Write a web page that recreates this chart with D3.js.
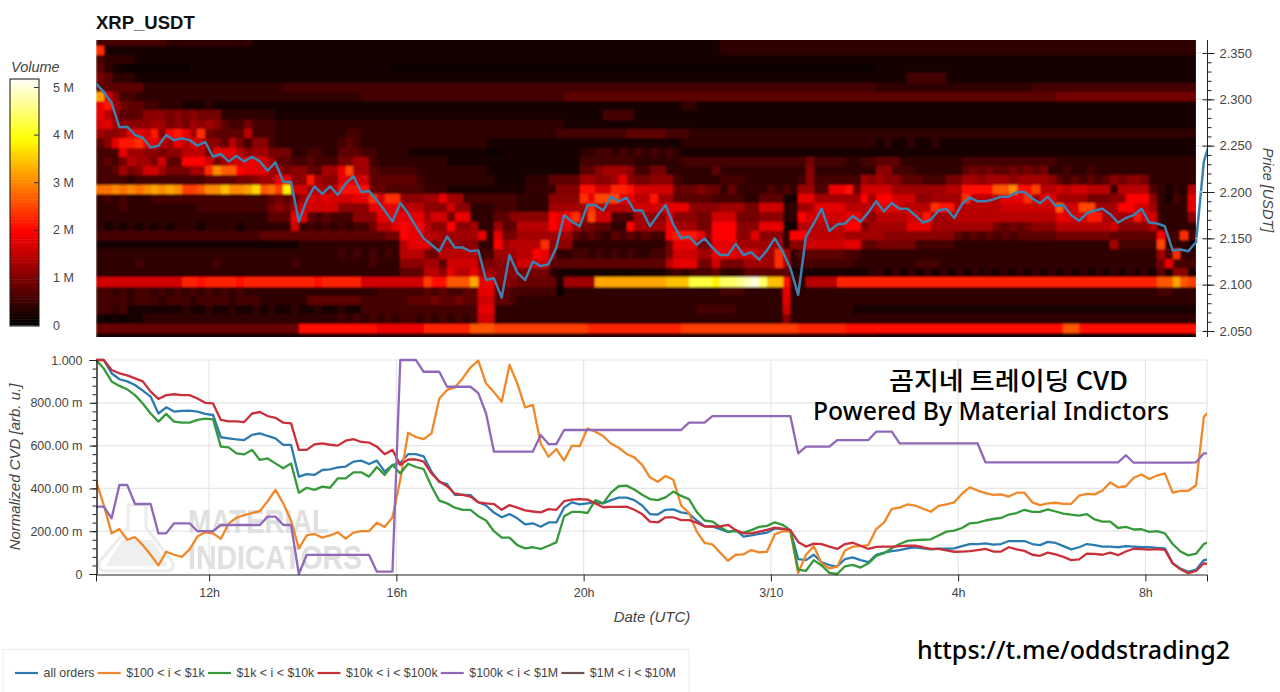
<!DOCTYPE html>
<html><head><meta charset="utf-8">
<script src="https://cdn.jsdelivr.net/npm/d3@7/dist/d3.min.js"></script>
<style>
html,body{margin:0;padding:0;background:#fff;overflow:hidden}
svg{display:block}
text{font-family:"Liberation Sans",Arial,sans-serif}
</style></head><body><svg id="c" width="1280" height="692"></svg>
<script>
// volume heat map: rows top to bottom, one letter per 10-minute column, a=lowest, each letter +0.2 M
const heatRows = [
"dddddddddc cccccccccc bbbbbbbbbb bbbbbbbbbb bbbbbbbbbb bbbbbbbbbb bbbbbbbbbb bbbbbbbbbb cccccccccc cccccccccc cccccccccc cccccccccc cccccccccc cccccccccc c",
"nbbbbbbbbb bbbbbbbbbb bbbbbbbbbb bbbbbbbbbb bbbbbbbbbb bbbbbbbbbb bbbbbbbbbb bbbbbbbbbb cccccccccc cccccccccc cccccccccc cccccccccc cccccccccc cccccccccc c",
"dccccbbbbb bbbbbbbbbb bbbbbbbbbb bbbbbbbbbb bbbbbbbbbb bbbbbbbbbb bbbbbbbbbb bbbbbbbbbb bbbbbbbbbb bbbbbbbbbb bbbbbbbbbb bbbbbbbbbb bbbbbbbbbb bbbbbbbbbb b",
"ecbaaaaaaa aabbbbbbbb bbbbbbbbbb bbbbbbbbaa aaaaaaaaaa aaaaaaaaaa aaaaaaaaaa aaaaaaaaaa aaaaaaaaaa aaaaaaaaaa bbbbbbbbbb bbbbbbbbbb bbbbbbbbbb bbbbbbbbbb b",
"fecccbbbbb bbbbbbbbbb bbbbbbbbbb bbbbbbbbbb bbbbbbbbbb bbbbbbbbbb bbbbbbbbbb bbbbbbbbbb bbbbbbbbbb bbbbbbbbbb bbbbdddddb bbbbbbbbbb bbbbbbbbbb bbbbbbbbbb b",
"eeeeeecccc cccccccccc ccccdddddd dddddddddd dddddddddd dddddddddd dddddddddd dddddddddd dddddddddd dddddddddd cccccccccc cccccccccc dddddddddd dddddddddd d",
"sjgddccccc cccccccccc cccccccccc ccccdddddd dddddddddd dddddddddd eeeeeeeeee eeeeeeeeee eeeeeeeeee eeeeeeeeee eeeeeeeeee eeeeeeeeee eeefffffff ffffffffff f",
"kmhfeeddcc cbbbcbbbbb bbbbbbbbbb bbbbbbbbbb bbbbbbbbbb bbbbbbbbbb bbbbbbbbbb bbbbbccbbb bbbbbbbbbb bbbbbbbbbb bbbbbbbbbb bbbbbbbbbb bbbbbbbbbb bbbbbbbbbb b",
"kigeeegggf gfgfffcccc cccbbbbbbb bbbbbbbbbb bbbbbbbbbb bbbbbbbbbb bbbbbddddb bbbbbbbbbb bbbbbbbbbb bbbbbbbbbb bbbbbbbbbb bbbbbbbbbb bbbbbbbbbb bbbbbbbbbb b",
"jkhgggghhf gfhghgeddf dddccccccc cccccccccc cccccccccc cccccccccc bbbbbbbbbb bbbbbbbbbb bbbbbbbbbb bbbbbbbbbb bbbbbbbbbb bbbbbbbbbb bbbbbbbbbb bbbbbbbbbb b",
"hgghkkjmgl mkhnfeeeei dddccccccc ccddcccccc cccccccccc cccccccccd ddddddddee eeedddcccc cccccccccc cccccccccc cccccccccc cccccccccc cccccccccc cccccccccc c",
"egkmmnkkih kikiggeifd ggdccccccc cdedcccccc cccccccccc bbbbbbbbbb bbbbbbbbbb bbbbbccccc cccccccccc cccccccccc bcbbcbbcbb bbbbbbbbbb bbbbbbbbbb bbbbbbbbbb b",
"dddkhhggfg giiifkkkig hhfffccddc ceeeddcccc bbbbbbbbbb aabbbbbbbb bbccddcdcd cdcdcbbbbb bbbbbbbbbb bbbbbbbbbb bbbbbbbbbb bbbbbbbbbb bbbbbbbbbb bbbbbbbbbb b",
"dedfihhfje ellljfhjjk kjheeddedd dffhhdcccc cccccbbbbb bbbbbbbbbb bbdddddddc cccccddddd dddddddddd dfddddccdd eeeccccccc cddddddddd dddccccccc cccccccccc c",
"ddehfgjjhf ffhhnrpplk kkhhfggeeh hkohhedddd dccccccccc bbbbbbbbbb bbeeghhhgd dffcccccce cccccccccc cgcccccccc ggdddccccc cefefeefef efccdccdcc cccccccccc c",
"ddddcddddd ddddeeeeff ghhkkggmhg gkkjjeeeee edcccccccc cbbbbcccee eehhgghkgf fgggdccccc dddccccccc dgddddddhg hggeeedddf fhhghhhghh hhgededede gfggfccccc c",
"oopopopqpq pmmnpprppq snomtiighg hkkkkeeddd ddcccbbbbb bbbbbccccf ffkkiillki iiiieeefee ceccccdcdc ggddjjkeii iigggggggh hkkkknnpkk mhhihiihhh chhhhdcbcb h",
"cdcdcccddd dddddddddd ddefefhkjk jjjkknjnng gghhkhhddd ddddccccgg ggnkoookki imhheeeeed dddcceeebb kkhhhhhhlh lljjjgghhh hniiiikkkn hkkhhhhfff gglllgcbdc k",
"cccdcccccc cccddddddd ddfgfhjjjj jggggkkkki iigggjggcc cdddcccchh hhhniiiiij jjjkkkgggg hhhffjjjcc hhkkkkiiii kkkiiiinmm iiiiiijjjj jjjpjjoohh hlljjhcccc k",
"cccccccccc cccccccccc cceeekkede dddgggkkkk kkhjjfkkcc ceeggggglk lnhojjdddh hggkgggffj jjfffgggcc ljjjjjkkig iiiijjmhhh iiiiiiiiii iiikkjjmmh hhhmjjcccc g",
"cbcbcbcbcb cccbccccbc cccccjcdcd cdcddfiikl kligglgghc cheeiiiilk khffeecclh hhhlhhhffl llgggkkkba iiiiiillfh hhhhkkkhhh hhhhhfefef gggiiiiiii jggggicccc c",
"dddddddddd dddddddddd deeeeeeeee eeeeeeeffl kkiihhhhhk ckffhhhhhh hededceded eddlmmmkgl llggkgggcl liiiiihhhh hggggggggg ededededee eeefffffff eeeeeelddn d",
"bbbbbbbbbb bbbbbbbbbb bbbbbbcccc ccccccccci kkkfhhgggc clhiiiingg gccccccccc cccfkkkffk kkhhhhhhcg gjjjjjkkee fffffddddd cccccccccc cccccccccc hdddddoccc b",
"cccccccccc cccccccccc cccccccccc cdcdcdcdci iiffiiiiid dhhhiilkgc cddcdcdcdc cddfjjjhhk kkjjjhhnhc eeeeeeddcc cccccccccc cccccccccc cccccccccc cccccchdnc c",
"cccccdcccc cccccdcccc cccccdcccc cccccdcccg gghhejjjjf fgggjjjjee eeeeeeeeee eeeikkkffj fffhhhhnhc dddddddccc cccccdddcc cccccccccc cccccccccc ccccccfkdd d",
"cccccccccc cccccccccc cccccccccc ccccccccce eeiigkiikh hgggffffcb bbabbabbab bbbcdcddde ccceeeeeeb bbbbbbbbbc cbcbcbcbcb cbcbcbcbcb cbcbcbcbcb cbcbcbebgg b",
"iiiiiiiiii illkllllkl llllllllkl lllliiiiii iimkknnnqj jfffeeeeeb ggggqqqqqq qqqrrrvvvt wwxyzwrrkc chhhhlllll llllllllll llllllllll llllllllll llllllnnqn m",
"ddcdcddcdc dcdcdcdcdc cccccccccc ccccccdddd ddededdeek keedddddda cccccccccc cccccccccc dddccccckc cccccccccc cccccccccc cccccccccc cccccccccc ccccccddcc c",
"ddddcdddcd ddcddddcdd dcccccceee eeeedddddd eeefeefeej jeedcccccc cccccccccc cccccccccc cccccccckc cccccccccc cccccccccc cccccccccc cccccccccc cccccccccc c",
"ddcdbbbbbb bcbbcbbcbb cbcbbcbbcb bcbbdddddd dddddddddk kccccccccc cccccccccc cccccccddd ddccccccjc cccccccbbb bbbbbbbbbb bbbbbbbbbb bbbbbbbbbb bbbbbbbbbb b",
"bababbcccc cccccccccc cccccccccc cdcdcdcdcd dcdcdcdcdj jccccccccc cccccccccc cccccccccc ccccccccgc cccccccccc cccccccccc cccccccccc cccccccccc cccccccccc c",
"eeeeeeeeee eeeeeeeeee eeeeeekkkk kkkkkkjjjj jjllllllnn nmmmmmmmmm mmmlllllll lllllmmmmm mmmmmmmmmm llllllkkkk kkkkkkkkkk kkkkkkkkkk kkkknnkkkk kkkkkkkkkk k",
"bbbbbbbbbb bbbbbbbbbb bbbbbbcccc cccccccccc cccccccccc cccccccccc cccccccccc cccccccccc cccccccccc cccccccccc bbbbbbbbbb bbbbbbbbbb bbbbbbbbbb bbbbbbbbbb b"
];
const priceSeries = [
2.317,2.308,2.296,2.27,2.2705,2.2615,2.2586,2.248,2.25,2.2615,
2.256,2.258,2.256,2.25,2.254,2.238,2.241,2.233,2.239,2.233,
2.238,2.233,2.223,2.232,2.211,2.211,2.168,2.191,2.206,2.198,
2.206,2.197,2.209,2.217,2.2,2.201,2.191,2.18,2.168,2.188,
2.177,2.163,2.15,2.143,2.136,2.152,2.14,2.14,2.136,2.137,
2.105,2.107,2.086,2.132,2.113,2.105,2.125,2.12,2.122,2.14,
2.175,2.168,2.163,2.186,2.186,2.18,2.195,2.19,2.194,2.18,
2.18,2.163,2.175,2.186,2.165,2.15,2.152,2.143,2.15,2.14,
2.132,2.132,2.144,2.132,2.135,2.127,2.137,2.15,2.136,2.118,
2.089,2.152,2.166,2.182,2.158,2.165,2.166,2.174,2.168,2.178,
2.19,2.179,2.188,2.182,2.182,2.175,2.167,2.17,2.18,2.182,
2.172,2.187,2.194,2.19,2.19,2.192,2.195,2.195,2.2,2.2,
2.193,2.188,2.195,2.185,2.186,2.175,2.169,2.177,2.18,2.182,
2.176,2.167,2.172,2.175,2.182,2.167,2.166,2.163,2.137,2.138,
2.136,2.146,2.233,2.26];
const cvdAll = [
1,1,.938,.91,.9,.883,.857,.829,.75,.779,
.759,.762,.763,.759,.748,.743,.639,.634,.629,.626,
.65,.657,.645,.634,.603,.603,.455,.467,.463,.486,
.489,.498,.502,.525,.53,.514,.53,.478,.509,.52,
.56,.56,.55,.478,.43,.42,.37,.37,.369,.335,
.32,.287,.265,.28,.26,.232,.237,.221,.241,.241,
.31,.335,.325,.33,.335,.33,.345,.357,.357,.345,
.32,.28,.278,.3,.302,.288,.282,.25,.224,.222,
.21,.197,.205,.175,.18,.187,.193,.213,.21,.203,
.07,.065,.09,.055,.042,.035,.07,.078,.065,.055,
.09,.1,.107,.112,.12,.125,.12,.115,.118,.118,
.12,.13,.14,.14,.143,.137,.14,.154,.154,.154,
.14,.135,.15,.145,.13,.115,.125,.14,.135,.128,
.128,.125,.13,.128,.125,.125,.122,.12,.05,.025,
.01,.02,.065,.07];
const cvd100 = [
.436,.322,.19,.21,.16,.172,.135,.09,.04,.104,
.09,.08,.115,.175,.195,.19,.165,.235,.263,.275,
.285,.294,.34,.393,.33,.25,.12,.18,.187,.17,
.18,.195,.165,.193,.2,.2,.24,.22,.265,.44,
.66,.64,.63,.657,.82,.86,.872,.915,.965,.997,
.89,.85,.805,.977,.89,.779,.79,.61,.548,.584,
.53,.6,.598,.68,.665,.645,.61,.59,.561,.545,
.51,.452,.431,.458,.44,.32,.285,.198,.146,.138,
.1,.062,.09,.092,.112,.101,.104,.185,.2,.198,
.005,.09,.13,.05,.026,.034,.11,.128,.13,.135,
.21,.24,.304,.31,.325,.32,.305,.291,.318,.325,
.335,.375,.405,.39,.378,.37,.372,.362,.38,.38,
.335,.322,.33,.333,.328,.328,.366,.374,.372,.39,
.428,.405,.41,.45,.465,.444,.46,.47,.38,.388,
.389,.415,.735,.77];
const cvd1k = [
1,.96,.9,.879,.863,.836,.797,.75,.712,.748,
.712,.707,.707,.72,.726,.723,.595,.592,.564,.559,
.58,.533,.54,.517,.494,.517,.38,.403,.393,.408,
.403,.447,.447,.475,.475,.455,.5,.463,.51,.47,
.515,.5,.49,.41,.343,.33,.31,.3,.3,.27,
.25,.2,.17,.17,.135,.12,.125,.117,.132,.148,
.27,.29,.29,.285,.345,.33,.38,.41,.413,.395,
.37,.35,.345,.358,.385,.365,.35,.29,.25,.245,
.22,.198,.2,.193,.205,.22,.225,.241,.23,.205,
.02,.015,.065,.04,.005,0,.036,.043,.03,.05,
.085,.097,.12,.14,.155,.158,.16,.162,.18,.198,
.203,.215,.237,.24,.25,.257,.262,.278,.285,.3,
.29,.29,.302,.292,.282,.277,.273,.28,.255,.245,
.245,.215,.22,.208,.209,.197,.2,.19,.14,.105,
.087,.095,.14,.155];
const cvd10k = [
1,1,.953,.938,.928,.914,.9,.852,.818,.836,
.84,.836,.836,.82,.8,.797,.72,.713,.713,.71,
.75,.757,.738,.73,.707,.704,.58,.58,.606,.61,
.604,.6,.623,.63,.617,.614,.595,.56,.58,.51,
.535,.535,.525,.47,.433,.41,.375,.37,.362,.335,
.33,.327,.3,.322,.31,.297,.292,.288,.303,.3,
.34,.348,.35,.348,.33,.312,.314,.314,.315,.3,
.28,.245,.241,.265,.265,.252,.252,.24,.222,.222,
.222,.23,.205,.19,.19,.198,.206,.217,.212,.205,
.15,.128,.142,.14,.128,.117,.14,.146,.132,.117,
.127,.128,.128,.13,.132,.132,.125,.117,.117,.11,
.104,.105,.107,.112,.117,.105,.105,.125,.115,.108,
.09,.085,.1,.092,.08,.065,.068,.095,.094,.09,
.1,.088,.105,.118,.116,.114,.116,.113,.05,.022,
.004,.014,.05,.045];
const cvd100k = [
.315,.315,.26,.416,.416,.327,.327,.327,.19,.19,
.237,.237,.237,.2,.2,.2,.229,.229,.229,.229,
.229,.229,.268,.268,.229,.229,0,.089,.089,.089,
.089,.089,.089,.089,.089,.089,.011,.011,.011,1,
1,1,.945,.945,.945,.875,.875,.875,.875,.845,
.75,.572,.572,.572,.572,.572,.572,.65,.607,.607,
.673,.673,.673,.673,.673,.673,.673,.673,.673,.673,
.673,.673,.673,.673,.673,.673,.707,.707,.707,.738,
.738,.738,.738,.738,.738,.738,.738,.738,.738,.738,
.564,.595,.595,.595,.595,.626,.626,.626,.626,.626,
.665,.665,.665,.61,.61,.61,.61,.61,.61,.61,
.61,.61,.61,.61,.522,.522,.522,.522,.522,.522,
.522,.522,.522,.522,.522,.522,.522,.522,.522,.522,
.522,.522,.555,.52,.52,.52,.52,.52,.52,.52,
.52,.522,.564,.564];
const cvd1M = [];
const seriesNames = ["all orders","$100 < i < $1k","$1k < i < $10k","$10k < i < $100k","$100k < i < $1M","$1M < i < $10M"];
const seriesColors = ["#2c7bb0","#f0882a","#36993a","#c9303a","#9068b8","#6b5353"];
const seriesValues = [cvdAll,cvd100,cvd1k,cvd10k,cvd100k,cvd1M];
const drawOrder = [0,1,2,3,4,5];
const priceTicks = [2.05,2.10,2.15,2.20,2.25,2.30,2.35];
const cvdTicks = [0,.2,.4,.6,.8,1];
const cvdTickLabels = ["0","200.00 m","400.00 m","600.00 m","800.00 m","1.000"];
const volumeTicks = [0,1,2,3,4,5];
const volumeTickLabels = ["0","1 M","2 M","3 M","4 M","5 M"];
const timeTicks = ["2025-03-09T12:00Z","2025-03-09T16:00Z","2025-03-09T20:00Z","2025-03-10T00:00Z","2025-03-10T04:00Z","2025-03-10T08:00Z"];
const timeTickLabels = ["12h","16h","20h","3/10","4h","8h"];
const startTime = Date.UTC(2025,2,9,9,35);
const stepMs = 10*60*1000;
const endTime = startTime + 142.4*stepMs;
const priceBinBase = 2.038, priceBinStep = 0.01, volumeStep = 0.2, volumeFloor = 0.08;
const wallBins = [1,6,16];      // price bins read as continuous walls
const readingGain = 0.88;       // the other bins' letters were read a little high

const svg = d3.select("#c");
const x = d3.scaleUtc().domain([startTime,endTime]).range([96,1207]);
const yP = d3.scaleLinear().domain([2.04353,2.36403]).range([337,40]);
const yC = d3.scaleLinear().domain([0,1]).range([574,360]);
const heat = d3.scaleLinear().domain([0,1.94,3.88,5.17]).range(["#000","#f00","#ff0","#fff"]);
const yV = d3.scaleLinear().domain([0,5]).range([325,87]);
const tick = "#444";

const defs = svg.append("defs");
defs.append("clipPath").attr("id","cp1").append("rect").attr("x",96).attr("y",40).attr("width",1111).attr("height",297);
defs.append("clipPath").attr("id","cp2").append("rect").attr("x",96).attr("y",358).attr("width",1111).attr("height",218);
defs.append("filter").attr("id","soft").attr("filterUnits","userSpaceOnUse").attr("x",90).attr("y",30).attr("width",1112).attr("height",315).append("feGaussianBlur").attr("stdDeviation",0.8);

svg.append("text").attr("x",96).attr("y",29).attr("font-size",18.5).attr("font-weight","700").attr("fill","#111").text("XRP_USDT");

const cells=[];
heatRows.forEach((s,r)=>{
  const k=heatRows.length-1-r;
  const gain = wallBins.includes(k) ? 1 : readingGain;
  s.replace(/ /g,"").split("").forEach((ch,c)=>{
    const code=ch.charCodeAt(0)-97;
    cells.push({r:k,c,v:Math.max(code*volumeStep*gain,volumeFloor)});
  });
});
const g1=svg.append("g").attr("clip-path","url(#cp1)");
priceTicks.forEach(p=>{svg.append("line").attr("x1",1196).attr("x2",1207).attr("y1",yP(p)).attr("y2",yP(p)).attr("stroke","#e8e8e8");});
g1.append("g").attr("filter","url(#soft)").attr("shape-rendering","crispEdges").selectAll("rect").data(cells).join("rect")
  .attr("x",d=>x(startTime+d.c*stepMs))
  .attr("width",d=>x(startTime+(d.c+1)*stepMs)-x(startTime+d.c*stepMs)+0.6)
  .attr("y",d=>yP(priceBinBase+(d.r+1)*priceBinStep))
  .attr("height",d=>yP(priceBinBase+d.r*priceBinStep)-yP(priceBinBase+(d.r+1)*priceBinStep)+0.6)
  .attr("fill",d=>heat(d.v));
g1.append("rect").attr("x",1196).attr("y",40).attr("width",12).attr("height",297).attr("fill","#fff");
g1.append("g").call(g=>priceTicks.forEach(p=>g.append("line").attr("x1",1196).attr("x2",1207).attr("y1",yP(p)).attr("y2",yP(p)).attr("stroke","#e8e8e8")));
g1.append("path").datum(priceSeries)
  .attr("d",d3.line().x((d,i)=>x(startTime+i*stepMs)).y(d=>yP(d)))
  .attr("fill","none").attr("stroke","#3f80ae").attr("stroke-width",2.5).attr("stroke-linejoin","round");

const pMinor=d3.range(205,236).map(v=>v/100);
const styleAxis=g=>{g.selectAll("path.domain").attr("stroke","#222");g.selectAll(".tick line").attr("stroke","#222");};
svg.append("g").attr("transform","translate(1207.5,0)").call(d3.axisRight(yP).tickValues(pMinor).tickSize(4).tickFormat("")).call(styleAxis).call(g=>g.select("path.domain").attr("d","M0,40V337"));
const pAx=svg.append("g").attr("transform","translate(1207.5,0)").call(d3.axisRight(yP).tickValues(priceTicks).tickSize(7).tickPadding(5).tickFormat(d3.format(".3f"))).call(styleAxis);
pAx.select("path.domain").remove();
pAx.selectAll("text").attr("font-size",13).attr("fill",tick).attr("font-family",'"Liberation Sans"');
svg.append("g").attr("transform","translate(1207.5,0)").call(d3.axisRight(yP).tickValues(priceTicks).tickSize(-5).tickFormat("")).call(styleAxis).select("path.domain").remove();
svg.append("text").attr("transform","translate(1263,190) rotate(90)").attr("text-anchor","middle").attr("font-size",14.5).attr("font-style","italic").attr("fill",tick).text("Price [USDT]");

const barVals=d3.range(0,5.17,0.06);
svg.append("g").selectAll("rect").data(barVals).join("rect")
  .attr("x",10).attr("width",29)
  .attr("y",d=>yV(d+0.06)).attr("height",d=>yV(d)-yV(d+0.06)+0.5)
  .attr("fill",d=>heat(d));
svg.append("rect").attr("x",10).attr("y",79).attr("width",29).attr("height",247).attr("fill","none").attr("stroke","#111").attr("stroke-width",1);
const vAx=svg.append("g").attr("transform","translate(39,0)").call(d3.axisRight(yV).tickValues(volumeTicks).tickSize(-5).tickPadding(19).tickFormat((d,i)=>volumeTickLabels[i]));
vAx.select("path.domain").remove();
vAx.selectAll(".tick line").attr("stroke","#333");
vAx.selectAll("text").attr("font-size",12.5).attr("fill",tick).attr("font-family",'"Liberation Sans"').attr("x",14);
svg.append("text").attr("x",11).attr("y",72).attr("font-size",14.5).attr("font-style","italic").attr("fill",tick).text("Volume");

const grid=svg.append("g").attr("stroke","#e6e6e6").attr("stroke-width",1.2);
cvdTicks.slice(1).forEach(v=>grid.append("line").attr("x1",96).attr("x2",1207).attr("y1",yC(v)).attr("y2",yC(v)));
timeTicks.forEach(t=>grid.append("line").attr("x1",x(new Date(t))).attr("x2",x(new Date(t))).attr("y1",360).attr("y2",574));
grid.append("line").attr("x1",1207).attr("x2",1207).attr("y1",360).attr("y2",574);

const wm=svg.append("g");
wm.append("path").attr("d","M128,505 H146 V528 L172,561 Q176,570 166,571 H106 Q96,570 100,561 L128,528 Z").attr("fill","none").attr("stroke","#ececec").attr("stroke-width",3);
wm.append("path").attr("d","M122,540 H152 L168,566 H106 Z").attr("fill","#efefef");
wm.append("text").attr("x",188).attr("y",532.5).attr("font-size",33).attr("font-weight","700").attr("fill","#e0e0e0").attr("textLength",141).attr("lengthAdjust","spacingAndGlyphs").text("MATERIAL");
wm.append("text").attr("x",188).attr("y",568.5).attr("font-size",33).attr("font-weight","700").attr("fill","#e0e0e0").attr("textLength",174).attr("lengthAdjust","spacingAndGlyphs").text("INDICATORS");

const g2=svg.append("g").attr("clip-path","url(#cp2)");
const line=d3.line().x((d,i)=>x(startTime+i*stepMs)).y(d=>yC(d));
drawOrder.forEach(i=>{
  g2.append("path").datum(seriesValues[i]).attr("d",line).attr("fill","none")
    .attr("stroke",seriesColors[i]).attr("stroke-width",2.3).attr("stroke-linejoin","round");
});

const cMinor=d3.range(0,51).map(v=>v/50).filter((v,i)=>i%2===0);
svg.append("g").attr("transform","translate(96.5,0)").call(d3.axisLeft(yC).tickValues(cMinor).tickSize(4).tickFormat("")).call(styleAxis);
const cAx=svg.append("g").attr("transform","translate(96.5,0)").call(d3.axisLeft(yC).tickValues(cvdTicks).tickSize(7).tickPadding(7).tickFormat((d,i)=>cvdTickLabels[i])).call(styleAxis);
cAx.selectAll("text").attr("font-size",12.5).attr("fill",tick).attr("font-family",'"Liberation Sans"');
const xAx=svg.append("g").attr("transform","translate(0,574.5)").call(d3.axisBottom(x).tickValues(timeTicks.map(t=>new Date(t))).tickSize(7).tickPadding(7).tickFormat((d,i)=>timeTickLabels[i])).call(styleAxis);
xAx.selectAll("text").attr("font-size",12.5).attr("fill",tick).attr("font-family",'"Liberation Sans"');
svg.append("text").attr("transform","translate(20,467) rotate(-90)").attr("text-anchor","middle").attr("font-size",15).attr("font-style","italic").attr("fill",tick).text("Normalized CVD [arb. u.]");
svg.append("text").attr("x",652).attr("y",622).attr("text-anchor","middle").attr("font-size",15).attr("font-style","italic").attr("fill",tick).text("Date (UTC)");

svg.append("text").attr("x",889).attr("y",390).attr("font-size",25).attr("font-weight",500).attr("fill","#000").attr("textLength",239).attr("lengthAdjust","spacingAndGlyphs").style("font-family",'"Noto Sans CJK KR"').text("곰지네 트레이딩 CVD");
svg.append("text").attr("x",813).attr("y",420).attr("font-size",26).attr("font-weight",500).attr("fill","#000").attr("textLength",356).attr("lengthAdjust","spacingAndGlyphs").style("font-family",'"Noto Sans"').text("Powered By Material Indictors");
svg.append("text").attr("x",917).attr("y",659).attr("font-size",26).attr("font-weight",500).attr("fill","#000").attr("textLength",313).attr("lengthAdjust","spacingAndGlyphs").style("font-family",'"Noto Sans"').text("https://t.me/oddstrading2");

svg.append("rect").attr("x",3).attr("y",649.5).attr("width",686).attr("height",60).attr("fill","#fff").attr("stroke","#ececec");
let lx=15;
seriesNames.forEach((n,i)=>{
  svg.append("line").attr("x1",lx).attr("x2",lx+23).attr("y1",673).attr("y2",673).attr("stroke",seriesColors[i]).attr("stroke-width",2.2);
  const t=svg.append("text").attr("x",lx+28.5).attr("y",677).attr("font-size",12.4).attr("fill",tick).text(n);
  lx+=28.5+t.node().getComputedTextLength()+3.2;
});
</script></body></html>
